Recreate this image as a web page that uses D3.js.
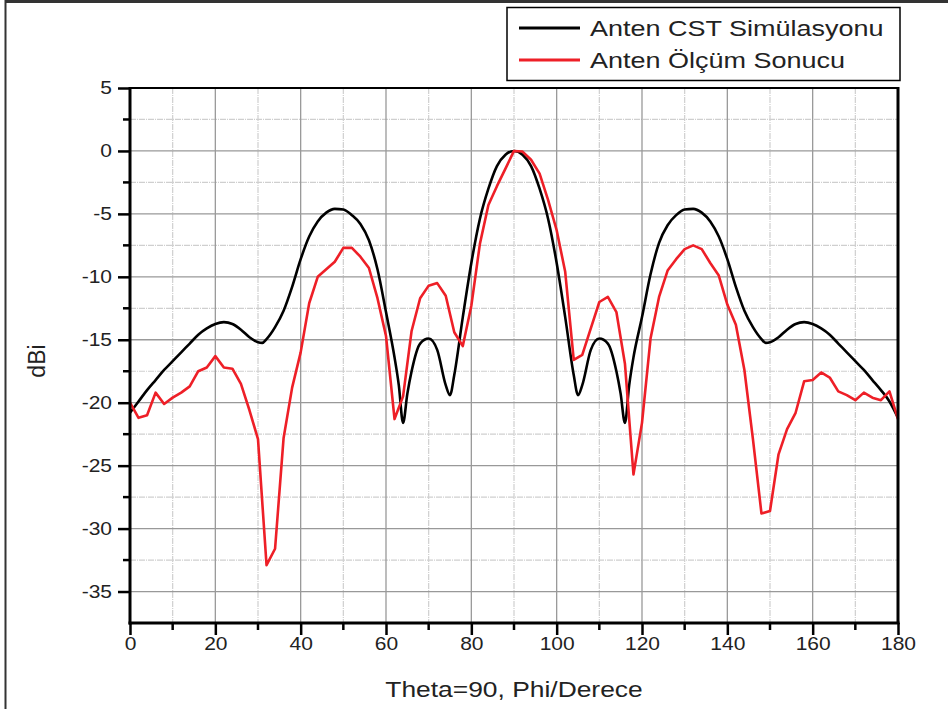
<!DOCTYPE html>
<html>
<head>
<meta charset="utf-8">
<script src="https://cdn.jsdelivr.net/npm/d3@7"></script>
<style>
  html, body { margin: 0; padding: 0; background: #fff; }
  text { font-family: "Liberation Sans", Arial, sans-serif; fill: #222; }
</style>
</head>
<body>
<div id="chart"></div>
<script>
// CST simulation (black)
const simPhi = [0,2,4,6,8,10,12,14,16,18,20,22,24,26,28,30,31,32,34,36,38,40,42,44,46,48,50,52,54,56,58,60,62,63,64,65,66,68,70,72,74,75,76,78,80,82,84,86,88,90,
  92,94,96,98,100,102,104,105,106,108,110,112,114,115,116,117,118,120,122,124,126,128,130,132,134,136,138,140,142,144,146,148,149,150,152,154,156,158,160,162,164,166,168,170,172,174,176,178,180];
const simDbi = [-20.8,-19.9,-19.0,-18.2,-17.4,-16.7,-16.0,-15.3,-14.6,-14.1,-13.75,-13.6,-13.75,-14.2,-14.8,-15.2,-15.25,-14.95,-14.0,-12.7,-10.8,-8.6,-6.8,-5.6,-4.9,-4.6,-4.65,-5.1,-5.8,-7.1,-9.4,-12.8,-16.4,-18.6,-21.6,-19.3,-17.5,-15.3,-14.9,-15.8,-18.6,-19.4,-17.8,-13.2,-8.9,-5.4,-3.0,-1.2,-0.3,0,
  -0.3,-1.2,-3.0,-5.4,-8.9,-13.2,-17.8,-19.4,-18.6,-15.8,-14.9,-15.3,-17.5,-19.3,-21.6,-18.6,-16.4,-13.2,-9.8,-7.3,-5.9,-5.1,-4.65,-4.6,-4.9,-5.6,-6.8,-8.6,-10.8,-12.7,-14.0,-14.95,-15.25,-15.2,-14.8,-14.2,-13.75,-13.6,-13.75,-14.1,-14.6,-15.3,-16.0,-16.7,-17.4,-18.2,-19.0,-19.9,-21.2];

// measurement (red)
const measPhi = [0,2,4,6,8,10,12,14,16,18,20,22,24,26,28,30,32,34,36,38,40,42,44,46,48,50,52,54,56,58,60,62,64,66,68,70,72,74,76,78,80,82,84,86,88,90,
  92,94,96,98,100,102,104,106,108,110,112,114,116,118,120,122,124,126,128,130,132,134,136,138,140,142,144,146,148,150,152,154,156,158,160,162,164,166,168,170,172,174,176,178,180];
const measDbi = [-20.0,-21.2,-21.0,-19.2,-20.1,-19.6,-19.2,-18.7,-17.5,-17.2,-16.3,-17.2,-17.3,-18.5,-20.6,-22.9,-32.9,-31.6,-22.8,-18.8,-16.0,-12.1,-10.0,-9.4,-8.8,-7.7,-7.7,-8.4,-9.3,-11.7,-14.7,-21.3,-19.5,-14.3,-11.7,-10.7,-10.5,-11.5,-14.4,-15.5,-12.3,-7.4,-4.3,-2.8,-1.4,0,
  -0.05,-0.7,-1.8,-3.9,-6.3,-9.6,-16.6,-16.2,-14.1,-12.0,-11.6,-12.8,-16.9,-25.7,-21.6,-14.9,-11.6,-9.5,-8.6,-7.8,-7.5,-7.8,-8.9,-9.9,-12.2,-13.8,-17.4,-22.9,-28.8,-28.6,-24.1,-22.1,-20.8,-18.3,-18.2,-17.6,-18.0,-19.1,-19.4,-19.8,-19.2,-19.6,-19.8,-19.1,-21.3];

const xTicks = [0,20,40,60,80,100,120,140,160,180];
const xMinor = [10,30,50,70,90,110,130,150,170];
const yTicks = [5,0,-5,-10,-15,-20,-25,-30,-35];
const yMinor = [2.5,-2.5,-7.5,-12.5,-17.5,-22.5,-27.5,-32.5];

const seriesNames = ["Anten CST Simülasyonu", "Anten Ölçüm Sonucu"];
const seriesColors = ["#000000", "#ee1f27"];

const W = 948, H = 709;
const pLeft = 130, pRight = 898, pTop = 88, pBottom = 623;
const sx = 1.2; // text is a bit wide in the picture

const svg = d3.select("#chart").append("svg")
  .attr("width", W).attr("height", H);

// outer page frame (only top/left visible)
svg.append("line").attr("x1", 5).attr("x2", W).attr("y1", 1.5).attr("y2", 1.5)
  .attr("stroke", "#333").attr("stroke-width", 3);
svg.append("line").attr("x1", 5.5).attr("x2", 5.5).attr("y1", 0).attr("y2", H)
  .attr("stroke", "#333").attr("stroke-width", 2);

const x = d3.scaleLinear().domain([0, 180]).range([pLeft, pRight]);
const y = d3.scaleLinear().domain([-37.5, 5]).range([pBottom, pTop]);

// grid
const grid = svg.append("g");
grid.selectAll(".gxm").data(xMinor).enter().append("line")
  .attr("x1", d => x(d)).attr("x2", d => x(d)).attr("y1", pTop).attr("y2", pBottom)
  .attr("stroke", "#cfcfcf").attr("stroke-width", 1.2).attr("stroke-dasharray", "6,1,1,1");
grid.selectAll(".gym").data(yMinor).enter().append("line")
  .attr("x1", pLeft).attr("x2", pRight).attr("y1", d => y(d)).attr("y2", d => y(d))
  .attr("stroke", "#cfcfcf").attr("stroke-width", 1.2).attr("stroke-dasharray", "6,1,1,1");
grid.selectAll(".gx").data(xTicks).enter().append("line")
  .attr("x1", d => x(d)).attr("x2", d => x(d)).attr("y1", pTop).attr("y2", pBottom)
  .attr("stroke", "#999").attr("stroke-width", 1.3);
grid.selectAll(".gy").data(yTicks).enter().append("line")
  .attr("x1", pLeft).attr("x2", pRight).attr("y1", d => y(d)).attr("y2", d => y(d))
  .attr("stroke", "#999").attr("stroke-width", 1.3);

// curves
const simData = simPhi.map((p, i) => ({ p: p, v: simDbi[i] }));
const measData = measPhi.map((p, i) => ({ p: p, v: measDbi[i] }));

const smooth = d3.line().x(d => x(d.p)).y(d => y(d.v)).curve(d3.curveMonotoneX);
const straight = d3.line().x(d => x(d.p)).y(d => y(d.v));

svg.append("path").attr("d", smooth(simData))
  .attr("fill", "none").attr("stroke", seriesColors[0]).attr("stroke-width", 2.6);
svg.append("path").attr("d", straight(measData))
  .attr("fill", "none").attr("stroke", seriesColors[1]).attr("stroke-width", 2.6)
  .attr("stroke-linejoin", "round");

// axes frame
svg.append("line").attr("x1", pLeft).attr("x2", pRight).attr("y1", pTop).attr("y2", pTop)
  .attr("stroke", "#000").attr("stroke-width", 2);
svg.append("line").attr("x1", pRight).attr("x2", pRight).attr("y1", pTop - 1).attr("y2", pBottom + 1)
  .attr("stroke", "#000").attr("stroke-width", 3);

const fmt = d => String(d); // plain hyphen minus like the original

const xAxis = d3.axisBottom(x).tickValues(xTicks).tickSize(12).tickPadding(3).tickFormat(fmt);
const gx = svg.append("g").attr("transform", `translate(0,${pBottom})`).call(xAxis);
gx.select(".domain").attr("stroke", "#000").attr("stroke-width", 3).attr("d", `M${pLeft - 1.5},0H${pRight + 1.5}`);
gx.selectAll(".tick line").attr("stroke", "#000").attr("stroke-width", 2.5);
gx.selectAll(".tick text").attr("font-size", 17.5).attr("fill", "#222")
  .attr("font-family", "Liberation Sans, Arial, sans-serif")
  .attr("transform", `scale(${sx},1)`);
svg.append("g").selectAll("line").data(xMinor).enter().append("line")
  .attr("x1", d => x(d)).attr("x2", d => x(d)).attr("y1", pBottom).attr("y2", pBottom + 7)
  .attr("stroke", "#000").attr("stroke-width", 2.5);

const yAxis = d3.axisLeft(y).tickValues(yTicks).tickSize(12).tickPadding(6).tickFormat(fmt);
const gy = svg.append("g").attr("transform", `translate(${pLeft},0)`).call(yAxis);
gy.select(".domain").attr("stroke", "#000").attr("stroke-width", 3).attr("d", `M0,${pTop - 1}V${pBottom + 1.5}`);
gy.selectAll(".tick line").attr("stroke", "#000").attr("stroke-width", 2.5);
gy.selectAll(".tick text").attr("font-size", 17.5).attr("fill", "#222")
  .attr("font-family", "Liberation Sans, Arial, sans-serif")
  .attr("x", -18 / sx)
  .attr("transform", `scale(${sx},1)`);
svg.append("g").selectAll("line").data(yMinor).enter().append("line")
  .attr("x1", pLeft - 7).attr("x2", pLeft).attr("y1", d => y(d)).attr("y2", d => y(d))
  .attr("stroke", "#000").attr("stroke-width", 2.5);

// axis titles
svg.append("text").attr("text-anchor", "middle")
  .attr("transform", `translate(${(pLeft + pRight) / 2},697) scale(${sx},1)`)
  .attr("font-size", 22).text("Theta=90, Phi/Derece");
svg.append("text").attr("text-anchor", "middle")
  .attr("transform", `translate(45,361) rotate(-90)`)
  .attr("font-size", 23).text("dBi");

// legend
const lg = svg.append("g");
lg.append("rect").attr("x", 507).attr("y", 7.5).attr("width", 393).attr("height", 73)
  .attr("fill", "#fff").attr("stroke", "#000").attr("stroke-width", 1.5);
const rowsY = [28, 60];
seriesNames.forEach((name, i) => {
  lg.append("line").attr("x1", 519).attr("x2", 580).attr("y1", rowsY[i]).attr("y2", rowsY[i])
    .attr("stroke", seriesColors[i]).attr("stroke-width", 3);
  lg.append("text").attr("transform", `translate(590,${rowsY[i] + 8}) scale(${sx},1)`)
    .attr("font-size", 22.5).text(name);
});
</script>
</body>
</html>
